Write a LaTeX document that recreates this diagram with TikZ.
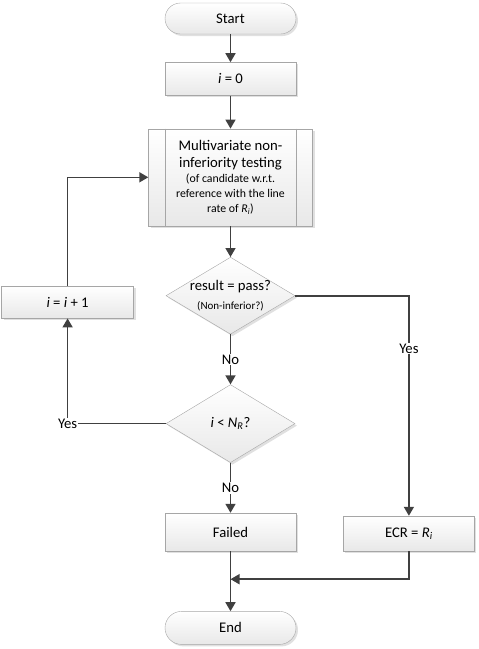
\documentclass[tikz,border=0pt]{standalone}
\usepackage{fontspec}
\setmainfont{Carlito}
\usetikzlibrary{positioning,shapes.geometric,shadows,arrows.meta}
\newcommand\smalltxt{\fontsize{11.8}{15}\selectfont}
\begin{document}
\begin{tikzpicture}[
  box/.style={draw=gray!70, top color=white, bottom color=gray!18,
    drop shadow={shadow xshift=2pt, shadow yshift=-2pt, fill=gray!40, opacity=0.6},
    minimum width=131pt, minimum height=33pt, inner sep=2pt, align=center,
    font=\fontsize{14.7}{17.5}\selectfont},
  term/.style={box, minimum height=31pt, rounded corners=15.5pt},
  dec/.style={box, diamond, aspect=1.675, minimum width=129pt, minimum height=77pt,
    inner xsep=-10pt, inner ysep=0pt},
  sub/.style={box, minimum width=164pt, minimum height=97pt, text width=150pt, align=flush center},
  line/.style={draw=black!75, line width=1.6pt, -{Triangle[length=9pt,width=10pt]}},
  lbl/.style={fill=white, inner sep=1pt, font=\fontsize{14.7}{17.5}\selectfont}]
  \useasboundingbox (0,0) rectangle (479pt,-649pt);
  % main column
  \node[term] (start) at (230.5pt,-18.5pt) {Start};
  \node[box] (init) [below=28pt of start] {\textit{i} = 0};
  \node[sub] (test) [below=33pt of init] {Multivariate non-\\inferiority testing\par
    \smalltxt (of candidate w.r.t.\\reference with the line\\rate of \textit{R}\textsubscript{\textit{i}})\par};
  \draw[gray!70] ([xshift=17pt]test.north west) -- ([xshift=17pt]test.south west);
  \draw[gray!70] ([xshift=-17pt]test.north east) -- ([xshift=-17pt]test.south east);
  \node[dec, text width=90pt, align=flush center] (pass) [below=31pt of test] {result = pass?\par
    \fontsize{11}{19}\selectfont (Non-inferior?)\par};
  \node[dec, minimum height=78pt] (more) [below=50pt of pass] {\textit{i} < \textit{N}\textsubscript{\textit{R}}?};
  \node[box, minimum height=38pt] (failed) [below=50pt of more] {Failed};
  \node[term, minimum height=33pt, rounded corners=16.5pt] (end) [below=60pt of failed] {End};
  % side boxes
  \node[box, minimum width=132pt, minimum height=32pt] (inc) [left=32pt of pass, yshift=-6.5pt] {\textit{i} = \textit{i} + 1};
  \node[box, minimum height=35pt] (ecr) [right=47pt of failed.south east, anchor=south west] {ECR = \textit{R}\textsubscript{\textit{i}}};
  \coordinate (merge) at ([yshift=-28pt]failed.south);
  % connectors
  \draw[line] (start) -- (init);
  \draw[line] (init) -- (test);
  \draw[line] (test) -- (pass);
  \draw[line] (pass) -- node[lbl] {No} (more);
  \draw[line] (more) -- node[lbl] {No} (failed);
  \draw[line] (more.west) -| node[lbl, pos=0.5] {Yes} (inc.south);
  \draw[line] (inc.north) |- (test.west);
  \draw[line] (pass.east) -| node[lbl, pos=0.62] {Yes} (ecr.north);
  \draw[line] (failed) -- (end);
  \draw[line] (ecr.south) |- (merge);
\end{tikzpicture}
\end{document}
